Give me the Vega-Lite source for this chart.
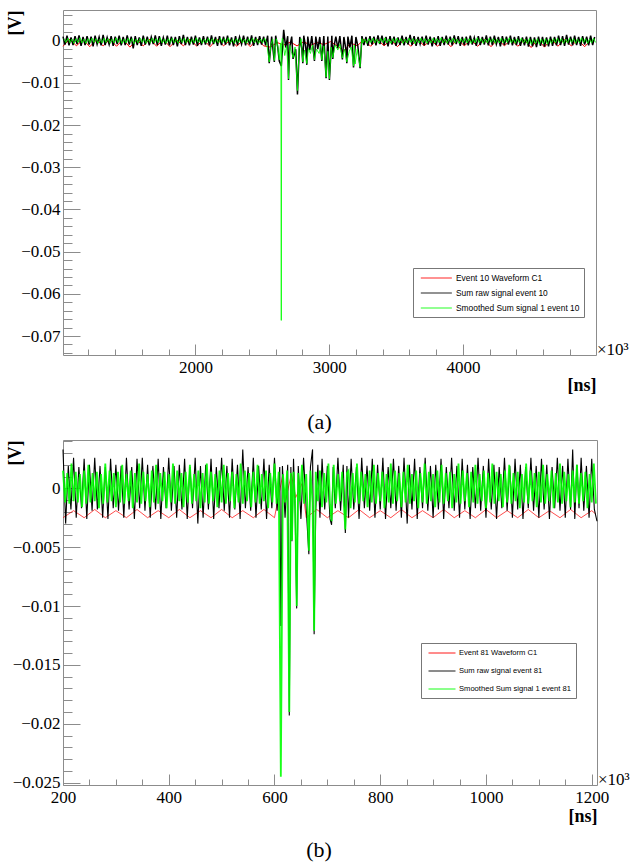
{
"$schema":"https://vega.github.io/schema/vega-lite/v6.json",
"padding":{"left":5,"top":9,"right":0,"bottom":0},
"background":"white",
"bounds":"flush",
"spacing":85,
"config":{
 "view":{"stroke":"#8c8c8c","strokeWidth":1},
 "axis":{"domain":false,"grid":false,"labelFont":"Liberation Serif","labelFontSize":17,"labelColor":"black","titleFont":"Liberation Serif","titleFontSize":18,"titleFontWeight":"bold","titleColor":"black","tickColor":"#8c8c8c","tickWidth":1},
 "style":{"guide-label":{"font":"Liberation Serif"},"guide-title":{"font":"Liberation Serif"}}
},
"resolve":{"scale":{"color":"independent"}},
"datasets":{
"aRed":[{"t":1010,"v":-0.0013},{"t":1060,"v":0.0004},{"t":1110,"v":-0.0012},{"t":1160,"v":0.0003},{"t":1210,"v":-0.0014},{"t":1260,"v":0.0002},{"t":1310,"v":-0.0012},{"t":1360,"v":0.0004},{"t":1410,"v":-0.0013},{"t":1460,"v":0.0003},{"t":1510,"v":-0.0015},{"t":1560,"v":0.0002},{"t":1610,"v":-0.0012},{"t":1660,"v":0.0004},{"t":1710,"v":-0.0013},{"t":1760,"v":0.0003},{"t":1810,"v":-0.0014},{"t":1860,"v":0.0002},{"t":1910,"v":-0.0012},{"t":1960,"v":0.0004},{"t":2010,"v":-0.0013},{"t":2060,"v":0.0003},{"t":2110,"v":-0.0014},{"t":2160,"v":0.0004},{"t":2210,"v":-0.0012},{"t":2260,"v":0.0002},{"t":2310,"v":-0.0013},{"t":2360,"v":0.0003},{"t":2410,"v":-0.0014},{"t":2460,"v":0.0004},{"t":2510,"v":-0.0012},{"t":2560,"v":-0.0015},{"t":2610,"v":-0.0004},{"t":2660,"v":-0.001},{"t":2710,"v":-0.0003},{"t":2760,"v":-0.0012},{"t":2810,"v":-0.0002},{"t":2860,"v":-0.0011},{"t":2910,"v":-0.0004},{"t":2960,"v":-0.0009},{"t":3010,"v":-0.0002},{"t":3060,"v":-0.0012},{"t":3110,"v":-0.0025},{"t":3160,"v":-0.0005},{"t":3210,"v":-0.0012},{"t":3260,"v":0.0003},{"t":3310,"v":-0.0013},{"t":3360,"v":0.0004},{"t":3410,"v":-0.0012},{"t":3460,"v":0.0002},{"t":3510,"v":-0.0014},{"t":3560,"v":0.0003},{"t":3610,"v":-0.0013},{"t":3660,"v":0.0004},{"t":3710,"v":-0.0012},{"t":3760,"v":0.0002},{"t":3810,"v":-0.0013},{"t":3860,"v":0.0003},{"t":3910,"v":-0.0014},{"t":3960,"v":0.0004},{"t":4010,"v":-0.0012},{"t":4060,"v":0.0002},{"t":4110,"v":-0.0013},{"t":4160,"v":0.0003},{"t":4210,"v":-0.0014},{"t":4260,"v":0.0004},{"t":4310,"v":-0.0012},{"t":4360,"v":0.0003},{"t":4410,"v":-0.0013},{"t":4460,"v":0.0002},{"t":4510,"v":-0.0016},{"t":4560,"v":0.0003},{"t":4610,"v":-0.0015},{"t":4660,"v":0.0004},{"t":4710,"v":-0.0013},{"t":4760,"v":0.0003},{"t":4810,"v":-0.0012},{"t":4860,"v":0.0002},{"t":4910,"v":-0.0014},{"t":4960,"v":0.0003}],
"aBlack":[{"t":1010,"v":0.001},{"t":1025,"v":-0.0009},{"t":1040,"v":0.0012},{"t":1055,"v":-0.0011},{"t":1070,"v":0.0008},{"t":1085,"v":-0.001},{"t":1100,"v":0.0011},{"t":1115,"v":-0.0008},{"t":1130,"v":0.0013},{"t":1145,"v":-0.0012},{"t":1160,"v":0.0009},{"t":1175,"v":-0.001},{"t":1190,"v":0.0011},{"t":1205,"v":-0.0009},{"t":1220,"v":0.001},{"t":1235,"v":-0.0013},{"t":1250,"v":0.0012},{"t":1265,"v":-0.0008},{"t":1280,"v":0.0009},{"t":1295,"v":-0.0011},{"t":1310,"v":0.0014},{"t":1325,"v":-0.001},{"t":1340,"v":0.0008},{"t":1355,"v":-0.0009},{"t":1370,"v":0.0011},{"t":1385,"v":-0.0012},{"t":1400,"v":0.001},{"t":1415,"v":-0.0008},{"t":1430,"v":0.0012},{"t":1445,"v":-0.0011},{"t":1460,"v":0.0009},{"t":1475,"v":-0.001},{"t":1490,"v":0.0013},{"t":1505,"v":-0.0009},{"t":1520,"v":0.001},{"t":1535,"v":-0.0018},{"t":1550,"v":0.0011},{"t":1565,"v":-0.001},{"t":1580,"v":0.0008},{"t":1595,"v":-0.0012},{"t":1610,"v":0.0012},{"t":1625,"v":-0.0009},{"t":1640,"v":0.001},{"t":1655,"v":-0.0011},{"t":1670,"v":0.0009},{"t":1685,"v":-0.0008},{"t":1700,"v":0.0013},{"t":1715,"v":-0.001},{"t":1730,"v":0.0011},{"t":1745,"v":-0.0012},{"t":1760,"v":0.0008},{"t":1775,"v":-0.0009},{"t":1790,"v":0.0012},{"t":1805,"v":-0.0011},{"t":1820,"v":0.001},{"t":1835,"v":-0.001},{"t":1850,"v":0.0009},{"t":1865,"v":-0.0013},{"t":1880,"v":0.0011},{"t":1895,"v":-0.0008},{"t":1910,"v":0.0014},{"t":1925,"v":-0.001},{"t":1940,"v":0.0009},{"t":1955,"v":-0.0011},{"t":1970,"v":0.001},{"t":1985,"v":-0.0009},{"t":2000,"v":0.0012},{"t":2015,"v":-0.0012},{"t":2030,"v":0.0008},{"t":2045,"v":-0.001},{"t":2060,"v":0.0011},{"t":2075,"v":-0.0009},{"t":2090,"v":0.001},{"t":2105,"v":-0.0011},{"t":2120,"v":0.0013},{"t":2135,"v":-0.0008},{"t":2150,"v":0.0009},{"t":2165,"v":-0.0012},{"t":2180,"v":0.0011},{"t":2195,"v":-0.001},{"t":2210,"v":0.001},{"t":2225,"v":-0.0009},{"t":2240,"v":0.0012},{"t":2255,"v":-0.0011},{"t":2270,"v":0.0008},{"t":2285,"v":-0.0013},{"t":2300,"v":0.0011},{"t":2315,"v":-0.001},{"t":2330,"v":0.0009},{"t":2345,"v":-0.0008},{"t":2360,"v":0.0012},{"t":2375,"v":-0.0011},{"t":2390,"v":0.001},{"t":2405,"v":-0.0009},{"t":2420,"v":0.0013},{"t":2435,"v":-0.0012},{"t":2450,"v":0.0009},{"t":2465,"v":-0.001},{"t":2480,"v":0.0011},{"t":2495,"v":-0.0009},{"t":2510,"v":0.001},{"t":2525,"v":-0.0011},{"t":2540,"v":0.0012},{"t":2552,"v":-0.0053},{"t":2570,"v":0.001},{"t":2590,"v":-0.005},{"t":2600,"v":0.0012},{"t":2615,"v":-0.0014},{"t":2627,"v":-0.0048},{"t":2642,"v":-0.006},{"t":2660,"v":0.0026},{"t":2675,"v":-0.0016},{"t":2690,"v":0.0011},{"t":2696,"v":-0.0093},{"t":2705,"v":-0.0015},{"t":2720,"v":0.001},{"t":2730,"v":-0.0043},{"t":2750,"v":-0.002},{"t":2763,"v":-0.0127},{"t":2780,"v":0.0009},{"t":2795,"v":-0.0018},{"t":2803,"v":-0.0053},{"t":2810,"v":0.0012},{"t":2825,"v":-0.0016},{"t":2833,"v":-0.0057},{"t":2840,"v":0.001},{"t":2855,"v":-0.0022},{"t":2870,"v":0.0011},{"t":2890,"v":-0.0048},{"t":2900,"v":0.001},{"t":2915,"v":-0.002},{"t":2930,"v":0.0009},{"t":2945,"v":-0.0048},{"t":2960,"v":0.0011},{"t":2977,"v":-0.0089},{"t":2990,"v":0.001},{"t":3002,"v":-0.0093},{"t":3020,"v":0.0012},{"t":3027,"v":-0.0043},{"t":3035,"v":-0.0015},{"t":3050,"v":0.001},{"t":3065,"v":-0.0018},{"t":3080,"v":0.0011},{"t":3099,"v":-0.0044},{"t":3110,"v":0.0009},{"t":3125,"v":-0.002},{"t":3132,"v":-0.0053},{"t":3140,"v":0.001},{"t":3155,"v":-0.0016},{"t":3170,"v":0.0012},{"t":3182,"v":-0.0063},{"t":3200,"v":0.0009},{"t":3215,"v":-0.0014},{"t":3231,"v":-0.0065},{"t":3245,"v":0.0011},{"t":3260,"v":-0.001},{"t":3275,"v":0.0009},{"t":3290,"v":-0.0012},{"t":3305,"v":0.0011},{"t":3320,"v":-0.0009},{"t":3335,"v":0.001},{"t":3350,"v":-0.0011},{"t":3365,"v":0.0013},{"t":3380,"v":-0.0008},{"t":3395,"v":0.0012},{"t":3410,"v":-0.001},{"t":3425,"v":0.0009},{"t":3440,"v":-0.0013},{"t":3455,"v":0.0011},{"t":3470,"v":-0.0009},{"t":3485,"v":0.001},{"t":3500,"v":-0.0012},{"t":3515,"v":0.0008},{"t":3530,"v":-0.001},{"t":3545,"v":0.0012},{"t":3560,"v":-0.0011},{"t":3575,"v":0.0009},{"t":3590,"v":-0.0009},{"t":3605,"v":0.0014},{"t":3620,"v":-0.001},{"t":3635,"v":0.0011},{"t":3650,"v":-0.0012},{"t":3665,"v":0.0009},{"t":3680,"v":-0.0008},{"t":3695,"v":0.001},{"t":3710,"v":-0.0011},{"t":3725,"v":0.0012},{"t":3740,"v":-0.0009},{"t":3755,"v":0.001},{"t":3770,"v":-0.0013},{"t":3785,"v":0.0008},{"t":3800,"v":-0.001},{"t":3815,"v":0.0011},{"t":3830,"v":-0.0012},{"t":3845,"v":0.0009},{"t":3860,"v":-0.001},{"t":3875,"v":0.0012},{"t":3890,"v":-0.0009},{"t":3905,"v":0.001},{"t":3920,"v":-0.0011},{"t":3935,"v":0.0013},{"t":3950,"v":-0.0008},{"t":3965,"v":0.0011},{"t":3980,"v":-0.0012},{"t":3995,"v":0.0009},{"t":4010,"v":-0.001},{"t":4025,"v":0.001},{"t":4040,"v":-0.0011},{"t":4055,"v":0.0012},{"t":4070,"v":-0.0009},{"t":4085,"v":0.0008},{"t":4100,"v":-0.0012},{"t":4115,"v":0.0011},{"t":4130,"v":-0.001},{"t":4145,"v":0.0009},{"t":4160,"v":-0.0009},{"t":4175,"v":0.0013},{"t":4190,"v":-0.0011},{"t":4205,"v":0.001},{"t":4220,"v":-0.001},{"t":4235,"v":0.0012},{"t":4250,"v":-0.0008},{"t":4265,"v":0.0009},{"t":4280,"v":-0.0013},{"t":4295,"v":0.0011},{"t":4310,"v":-0.001},{"t":4325,"v":0.001},{"t":4340,"v":-0.0009},{"t":4355,"v":0.0012},{"t":4370,"v":-0.0011},{"t":4385,"v":0.0009},{"t":4400,"v":-0.001},{"t":4415,"v":0.0011},{"t":4430,"v":-0.0012},{"t":4445,"v":0.0008},{"t":4460,"v":-0.0011},{"t":4475,"v":0.001},{"t":4490,"v":-0.0014},{"t":4505,"v":0.0009},{"t":4520,"v":-0.0013},{"t":4535,"v":0.0008},{"t":4550,"v":-0.0015},{"t":4565,"v":0.001},{"t":4580,"v":-0.0012},{"t":4595,"v":0.0009},{"t":4610,"v":-0.0014},{"t":4625,"v":0.0008},{"t":4640,"v":-0.0013},{"t":4655,"v":0.001},{"t":4670,"v":-0.0012},{"t":4685,"v":0.0009},{"t":4700,"v":-0.0011},{"t":4715,"v":0.0012},{"t":4730,"v":-0.001},{"t":4745,"v":0.0011},{"t":4760,"v":-0.0012},{"t":4775,"v":0.0014},{"t":4790,"v":-0.0009},{"t":4805,"v":0.001},{"t":4820,"v":-0.0011},{"t":4835,"v":0.0012},{"t":4850,"v":-0.001},{"t":4865,"v":0.0009},{"t":4880,"v":-0.0012},{"t":4895,"v":0.0011},{"t":4910,"v":-0.0009},{"t":4925,"v":0.001},{"t":4940,"v":-0.0011},{"t":4955,"v":0.0012},{"t":4970,"v":-0.001},{"t":4985,"v":0.0009}],
"aGreen":[{"t":1017,"v":0.0005},{"t":1032,"v":-0.0004},{"t":1047,"v":0.0006},{"t":1062,"v":-0.0005},{"t":1077,"v":0.0004},{"t":1092,"v":-0.0006},{"t":1107,"v":0.0005},{"t":1122,"v":-0.0004},{"t":1137,"v":0.0007},{"t":1152,"v":-0.0005},{"t":1167,"v":0.0004},{"t":1182,"v":-0.0006},{"t":1197,"v":0.0005},{"t":1212,"v":-0.0005},{"t":1227,"v":0.0006},{"t":1242,"v":-0.0004},{"t":1257,"v":0.0005},{"t":1272,"v":-0.0006},{"t":1287,"v":0.0004},{"t":1302,"v":-0.0005},{"t":1317,"v":0.0006},{"t":1332,"v":-0.0004},{"t":1347,"v":0.0005},{"t":1362,"v":-0.0006},{"t":1377,"v":0.0004},{"t":1392,"v":-0.0005},{"t":1407,"v":0.0007},{"t":1422,"v":-0.0004},{"t":1437,"v":0.0005},{"t":1452,"v":-0.0006},{"t":1467,"v":0.0004},{"t":1482,"v":-0.0005},{"t":1497,"v":0.0006},{"t":1512,"v":-0.0004},{"t":1527,"v":0.0005},{"t":1542,"v":-0.0007},{"t":1557,"v":0.0004},{"t":1572,"v":-0.0005},{"t":1587,"v":0.0006},{"t":1602,"v":-0.0004},{"t":1617,"v":0.0005},{"t":1632,"v":-0.0006},{"t":1647,"v":0.0004},{"t":1662,"v":-0.0005},{"t":1677,"v":0.0006},{"t":1692,"v":-0.0005},{"t":1707,"v":0.0005},{"t":1722,"v":-0.0004},{"t":1737,"v":0.0007},{"t":1752,"v":-0.0005},{"t":1767,"v":0.0004},{"t":1782,"v":-0.0006},{"t":1797,"v":0.0005},{"t":1812,"v":-0.0004},{"t":1827,"v":0.0006},{"t":1842,"v":-0.0005},{"t":1857,"v":0.0004},{"t":1872,"v":-0.0006},{"t":1887,"v":0.0005},{"t":1902,"v":-0.0004},{"t":1917,"v":0.0006},{"t":1932,"v":-0.0005},{"t":1947,"v":0.0005},{"t":1962,"v":-0.0006},{"t":1977,"v":0.0004},{"t":1992,"v":-0.0005},{"t":2007,"v":0.0007},{"t":2022,"v":-0.0004},{"t":2037,"v":0.0005},{"t":2052,"v":-0.0006},{"t":2067,"v":0.0004},{"t":2082,"v":-0.0005},{"t":2097,"v":0.0006},{"t":2112,"v":-0.0004},{"t":2127,"v":0.0005},{"t":2142,"v":-0.0006},{"t":2157,"v":0.0004},{"t":2172,"v":-0.0005},{"t":2187,"v":0.0006},{"t":2202,"v":-0.0005},{"t":2217,"v":0.0005},{"t":2232,"v":-0.0004},{"t":2247,"v":0.0007},{"t":2262,"v":-0.0005},{"t":2277,"v":0.0004},{"t":2292,"v":-0.0006},{"t":2307,"v":0.0005},{"t":2322,"v":-0.0004},{"t":2337,"v":0.0006},{"t":2352,"v":-0.0005},{"t":2367,"v":0.0004},{"t":2382,"v":-0.0006},{"t":2397,"v":0.0005},{"t":2412,"v":-0.0004},{"t":2427,"v":0.0006},{"t":2442,"v":-0.0005},{"t":2457,"v":0.0005},{"t":2472,"v":-0.0006},{"t":2487,"v":0.0004},{"t":2502,"v":-0.0005},{"t":2517,"v":0.0006},{"t":2532,"v":-0.0004},{"t":2552,"v":-0.005},{"t":2565,"v":-0.0008},{"t":2578,"v":0.0004},{"t":2590,"v":-0.0047},{"t":2605,"v":0.0005},{"t":2615,"v":-0.0012},{"t":2627,"v":-0.0045},{"t":2636,"v":-0.0006},{"t":2639,"v":-0.0005},{"t":2642,"v":-0.0663},{"t":2645,"v":-0.0006},{"t":2650,"v":0.0006},{"t":2668,"v":-0.0035},{"t":2682,"v":-0.0012},{"t":2696,"v":-0.009},{"t":2705,"v":-0.001},{"t":2717,"v":-0.0025},{"t":2730,"v":-0.004},{"t":2745,"v":-0.0015},{"t":2763,"v":-0.0118},{"t":2775,"v":-0.002},{"t":2790,"v":0.0005},{"t":2803,"v":-0.005},{"t":2815,"v":-0.0022},{"t":2833,"v":-0.0054},{"t":2845,"v":-0.0018},{"t":2860,"v":-0.003},{"t":2875,"v":-0.001},{"t":2890,"v":-0.0045},{"t":2905,"v":-0.002},{"t":2925,"v":-0.003},{"t":2935,"v":-0.0008},{"t":2945,"v":-0.0045},{"t":2960,"v":-0.0012},{"t":2977,"v":-0.0086},{"t":2990,"v":-0.0025},{"t":3002,"v":-0.009},{"t":3015,"v":-0.0015},{"t":3027,"v":-0.004},{"t":3045,"v":-0.001},{"t":3065,"v":-0.0022},{"t":3080,"v":-0.0008},{"t":3099,"v":-0.0041},{"t":3115,"v":-0.002},{"t":3132,"v":-0.005},{"t":3150,"v":-0.0025},{"t":3165,"v":-0.0015},{"t":3182,"v":-0.006},{"t":3188,"v":-0.001},{"t":3194,"v":-0.0055},{"t":3210,"v":-0.002},{"t":3231,"v":-0.0062},{"t":3245,"v":0.0005},{"t":3252,"v":-0.0005},{"t":3267,"v":0.0004},{"t":3282,"v":-0.0006},{"t":3297,"v":0.0005},{"t":3312,"v":-0.0004},{"t":3327,"v":0.0006},{"t":3342,"v":-0.0005},{"t":3357,"v":0.0004},{"t":3372,"v":-0.0006},{"t":3387,"v":0.0005},{"t":3402,"v":-0.0004},{"t":3417,"v":0.0007},{"t":3432,"v":-0.0005},{"t":3447,"v":0.0004},{"t":3462,"v":-0.0006},{"t":3477,"v":0.0005},{"t":3492,"v":-0.0005},{"t":3507,"v":0.0006},{"t":3522,"v":-0.0004},{"t":3537,"v":0.0005},{"t":3552,"v":-0.0006},{"t":3567,"v":0.0004},{"t":3582,"v":-0.0005},{"t":3597,"v":0.0006},{"t":3612,"v":-0.0004},{"t":3627,"v":0.0005},{"t":3642,"v":-0.0007},{"t":3657,"v":0.0004},{"t":3672,"v":-0.0005},{"t":3687,"v":0.0006},{"t":3702,"v":-0.0004},{"t":3717,"v":0.0005},{"t":3732,"v":-0.0006},{"t":3747,"v":0.0004},{"t":3762,"v":-0.0005},{"t":3777,"v":0.0006},{"t":3792,"v":-0.0005},{"t":3807,"v":0.0005},{"t":3822,"v":-0.0004},{"t":3837,"v":0.0007},{"t":3852,"v":-0.0005},{"t":3867,"v":0.0004},{"t":3882,"v":-0.0006},{"t":3897,"v":0.0005},{"t":3912,"v":-0.0004},{"t":3927,"v":0.0006},{"t":3942,"v":-0.0005},{"t":3957,"v":0.0004},{"t":3972,"v":-0.0006},{"t":3987,"v":0.0005},{"t":4002,"v":-0.0004},{"t":4017,"v":0.0006},{"t":4032,"v":-0.0005},{"t":4047,"v":0.0005},{"t":4062,"v":-0.0006},{"t":4077,"v":0.0004},{"t":4092,"v":-0.0005},{"t":4107,"v":0.0007},{"t":4122,"v":-0.0004},{"t":4137,"v":0.0005},{"t":4152,"v":-0.0006},{"t":4167,"v":0.0004},{"t":4182,"v":-0.0005},{"t":4197,"v":0.0006},{"t":4212,"v":-0.0004},{"t":4227,"v":0.0005},{"t":4242,"v":-0.0006},{"t":4257,"v":0.0004},{"t":4272,"v":-0.0005},{"t":4287,"v":0.0006},{"t":4302,"v":-0.0005},{"t":4317,"v":0.0005},{"t":4332,"v":-0.0004},{"t":4347,"v":0.0007},{"t":4362,"v":-0.0005},{"t":4377,"v":0.0004},{"t":4392,"v":-0.0006},{"t":4407,"v":0.0005},{"t":4422,"v":-0.0004},{"t":4437,"v":0.0006},{"t":4452,"v":-0.0005},{"t":4467,"v":0.0004},{"t":4482,"v":-0.0007},{"t":4497,"v":0.0005},{"t":4512,"v":-0.0008},{"t":4527,"v":0.0004},{"t":4542,"v":-0.0007},{"t":4557,"v":0.0005},{"t":4572,"v":-0.0008},{"t":4587,"v":0.0004},{"t":4602,"v":-0.0007},{"t":4617,"v":0.0005},{"t":4632,"v":-0.0008},{"t":4647,"v":0.0004},{"t":4662,"v":-0.0006},{"t":4677,"v":0.0005},{"t":4692,"v":-0.0005},{"t":4707,"v":0.0006},{"t":4722,"v":-0.0004},{"t":4737,"v":0.0005},{"t":4752,"v":-0.0006},{"t":4767,"v":0.0004},{"t":4782,"v":-0.0005},{"t":4797,"v":0.0006},{"t":4812,"v":-0.0004},{"t":4827,"v":0.0005},{"t":4842,"v":-0.0006},{"t":4857,"v":0.0004},{"t":4872,"v":-0.0005},{"t":4887,"v":0.0007},{"t":4902,"v":-0.0004},{"t":4917,"v":0.0005},{"t":4932,"v":-0.0006},{"t":4947,"v":0.0004},{"t":4962,"v":-0.0005},{"t":4977,"v":0.0006},{"t":4992,"v":-0.0004}],
"bRed":[{"t":200,"v":-0.0025},{"t":220,"v":-0.0019},{"t":240,"v":-0.0025},{"t":260,"v":-0.0018},{"t":280,"v":-0.0025},{"t":300,"v":-0.0019},{"t":320,"v":-0.0025},{"t":340,"v":-0.0018},{"t":360,"v":-0.0025},{"t":380,"v":-0.0019},{"t":400,"v":-0.0025},{"t":420,"v":-0.0018},{"t":440,"v":-0.0025},{"t":460,"v":-0.0019},{"t":480,"v":-0.0025},{"t":500,"v":-0.0018},{"t":520,"v":-0.0025},{"t":540,"v":-0.0019},{"t":560,"v":-0.0025},{"t":580,"v":-0.0018},{"t":600,"v":-0.0025},{"t":615,"v":0.001},{"t":620,"v":-0.0012},{"t":632,"v":0.0012},{"t":640,"v":-0.0008},{"t":652,"v":0.0004},{"t":660,"v":-0.0025},{"t":680,"v":-0.0018},{"t":700,"v":-0.0025},{"t":720,"v":-0.0019},{"t":740,"v":-0.0025},{"t":760,"v":-0.0018},{"t":780,"v":-0.0025},{"t":800,"v":-0.0019},{"t":820,"v":-0.0025},{"t":840,"v":-0.0018},{"t":860,"v":-0.0025},{"t":880,"v":-0.0019},{"t":900,"v":-0.0025},{"t":920,"v":-0.0018},{"t":940,"v":-0.0025},{"t":960,"v":-0.0019},{"t":980,"v":-0.0025},{"t":1000,"v":-0.0018},{"t":1020,"v":-0.0025},{"t":1040,"v":-0.0019},{"t":1060,"v":-0.0025},{"t":1080,"v":-0.0018},{"t":1100,"v":-0.0025},{"t":1120,"v":-0.0019},{"t":1140,"v":-0.0025},{"t":1160,"v":-0.0018},{"t":1180,"v":-0.0025},{"t":1200,"v":-0.0019},{"t":1208,"v":-0.0022}],
"bBlack":[{"t":200,"v":0.0033},{"t":205,"v":-0.003},{"t":210,"v":0.0019},{"t":215,"v":-0.0018},{"t":220,"v":0.0026},{"t":225,"v":-0.0025},{"t":230,"v":0.0018},{"t":235,"v":-0.0017},{"t":240,"v":0.0025},{"t":245,"v":-0.0026},{"t":250,"v":0.002},{"t":255,"v":-0.0019},{"t":260,"v":0.0026},{"t":265,"v":-0.0018},{"t":270,"v":0.0019},{"t":275,"v":-0.0025},{"t":280,"v":0.0018},{"t":285,"v":-0.0026},{"t":290,"v":0.0025},{"t":295,"v":-0.0017},{"t":300,"v":0.002},{"t":305,"v":-0.0019},{"t":310,"v":0.0019},{"t":315,"v":-0.0025},{"t":320,"v":0.0026},{"t":325,"v":-0.0018},{"t":330,"v":0.0018},{"t":335,"v":-0.0026},{"t":340,"v":0.0025},{"t":345,"v":-0.0017},{"t":350,"v":0.0026},{"t":355,"v":-0.0019},{"t":360,"v":0.002},{"t":365,"v":-0.0025},{"t":370,"v":0.0019},{"t":375,"v":-0.0018},{"t":380,"v":0.0025},{"t":385,"v":-0.0026},{"t":390,"v":0.0018},{"t":395,"v":-0.0017},{"t":400,"v":0.0026},{"t":405,"v":-0.0019},{"t":410,"v":0.0019},{"t":415,"v":-0.0025},{"t":420,"v":0.002},{"t":425,"v":-0.0018},{"t":430,"v":0.0025},{"t":435,"v":-0.0026},{"t":440,"v":0.0018},{"t":445,"v":-0.0017},{"t":450,"v":0.0026},{"t":455,"v":-0.003},{"t":460,"v":0.0019},{"t":465,"v":-0.0025},{"t":470,"v":0.002},{"t":475,"v":-0.0018},{"t":480,"v":0.0025},{"t":485,"v":-0.0026},{"t":490,"v":0.0018},{"t":495,"v":-0.0017},{"t":500,"v":0.0026},{"t":505,"v":-0.0019},{"t":510,"v":0.0019},{"t":515,"v":-0.0025},{"t":520,"v":0.0025},{"t":525,"v":-0.0018},{"t":530,"v":0.002},{"t":535,"v":-0.0026},{"t":540,"v":0.0033},{"t":545,"v":-0.0017},{"t":550,"v":0.0018},{"t":555,"v":-0.0019},{"t":560,"v":0.0026},{"t":565,"v":-0.0025},{"t":570,"v":0.0019},{"t":575,"v":-0.0018},{"t":580,"v":0.0025},{"t":585,"v":-0.0026},{"t":590,"v":0.002},{"t":595,"v":-0.0017},{"t":600,"v":0.0026},{"t":605,"v":-0.0019},{"t":610,"v":0.0018},{"t":612,"v":-0.0117},{"t":615,"v":0.0019},{"t":620,"v":-0.0025},{"t":625,"v":0.002},{"t":628,"v":-0.0193},{"t":631,"v":0.0018},{"t":633,"v":-0.0045},{"t":636,"v":0.0025},{"t":639,"v":-0.0018},{"t":642,"v":-0.0102},{"t":645,"v":0.0019},{"t":650,"v":-0.0026},{"t":655,"v":0.0026},{"t":660,"v":-0.0017},{"t":665,"v":-0.0056},{"t":668,"v":0.0018},{"t":672,"v":0.0033},{"t":675,"v":-0.0124},{"t":678,"v":-0.0019},{"t":682,"v":0.002},{"t":686,"v":-0.0025},{"t":690,"v":0.0025},{"t":695,"v":-0.0018},{"t":700,"v":0.0019},{"t":705,"v":-0.0026},{"t":708,"v":-0.0031},{"t":711,"v":0.0018},{"t":715,"v":-0.0017},{"t":720,"v":0.0026},{"t":725,"v":-0.0019},{"t":730,"v":0.002},{"t":734,"v":-0.0038},{"t":737,"v":0.0019},{"t":740,"v":-0.0025},{"t":745,"v":0.0025},{"t":750,"v":-0.0018},{"t":755,"v":0.0018},{"t":760,"v":-0.0026},{"t":765,"v":0.0026},{"t":770,"v":-0.0017},{"t":775,"v":0.0019},{"t":780,"v":-0.0019},{"t":785,"v":0.0025},{"t":790,"v":-0.0025},{"t":795,"v":0.002},{"t":800,"v":-0.0018},{"t":805,"v":0.0026},{"t":810,"v":-0.0026},{"t":815,"v":0.0018},{"t":820,"v":-0.0017},{"t":825,"v":0.0025},{"t":830,"v":-0.0019},{"t":835,"v":0.0019},{"t":840,"v":-0.0025},{"t":845,"v":0.0026},{"t":851,"v":-0.003},{"t":855,"v":0.002},{"t":860,"v":-0.0018},{"t":865,"v":0.0025},{"t":870,"v":-0.0026},{"t":875,"v":0.0018},{"t":880,"v":-0.0017},{"t":885,"v":0.0026},{"t":890,"v":-0.0019},{"t":895,"v":0.0019},{"t":900,"v":-0.0025},{"t":905,"v":0.002},{"t":910,"v":-0.0018},{"t":915,"v":0.0025},{"t":920,"v":-0.0026},{"t":925,"v":0.0018},{"t":930,"v":-0.0017},{"t":935,"v":0.0026},{"t":940,"v":-0.0019},{"t":945,"v":0.0019},{"t":950,"v":-0.0025},{"t":955,"v":0.0025},{"t":960,"v":-0.0018},{"t":965,"v":0.002},{"t":970,"v":-0.0026},{"t":975,"v":0.0018},{"t":980,"v":-0.0017},{"t":985,"v":0.0026},{"t":990,"v":-0.0019},{"t":995,"v":0.0019},{"t":1000,"v":-0.0025},{"t":1005,"v":0.0025},{"t":1010,"v":-0.0018},{"t":1015,"v":0.002},{"t":1020,"v":-0.0026},{"t":1025,"v":0.0018},{"t":1030,"v":-0.0017},{"t":1035,"v":0.0026},{"t":1040,"v":-0.0019},{"t":1045,"v":0.0019},{"t":1050,"v":-0.0025},{"t":1055,"v":0.0025},{"t":1060,"v":-0.0018},{"t":1065,"v":0.002},{"t":1070,"v":-0.0026},{"t":1075,"v":0.0018},{"t":1080,"v":-0.0017},{"t":1085,"v":0.0026},{"t":1090,"v":-0.0019},{"t":1095,"v":0.0019},{"t":1100,"v":-0.0025},{"t":1105,"v":0.0025},{"t":1110,"v":-0.0018},{"t":1115,"v":0.002},{"t":1120,"v":-0.0026},{"t":1125,"v":0.0018},{"t":1130,"v":-0.0017},{"t":1135,"v":0.0026},{"t":1140,"v":-0.0019},{"t":1145,"v":0.0019},{"t":1150,"v":-0.0025},{"t":1155,"v":0.0025},{"t":1160,"v":-0.0018},{"t":1164,"v":0.0033},{"t":1168,"v":-0.0026},{"t":1172,"v":0.002},{"t":1176,"v":-0.0017},{"t":1180,"v":0.0026},{"t":1185,"v":-0.0019},{"t":1190,"v":0.0019},{"t":1195,"v":-0.0025},{"t":1200,"v":0.0025},{"t":1205,"v":-0.0018},{"t":1210,"v":-0.0028}],
"bGreen":[{"t":200,"v":0.0015},{"t":204,"v":-0.0012},{"t":208,"v":0.0013},{"t":212,"v":-0.0013},{"t":216,"v":0.0021},{"t":220,"v":-0.0011},{"t":224,"v":0.0014},{"t":228,"v":-0.0012},{"t":232,"v":0.0012},{"t":236,"v":-0.0016},{"t":240,"v":0.0015},{"t":244,"v":-0.0013},{"t":248,"v":0.002},{"t":252,"v":-0.0012},{"t":256,"v":0.0013},{"t":260,"v":-0.0011},{"t":264,"v":0.0014},{"t":268,"v":-0.0017},{"t":272,"v":0.0012},{"t":276,"v":-0.0013},{"t":280,"v":0.0021},{"t":284,"v":-0.0012},{"t":288,"v":0.0015},{"t":292,"v":-0.0011},{"t":296,"v":0.0013},{"t":300,"v":-0.0016},{"t":304,"v":0.0014},{"t":308,"v":-0.0012},{"t":312,"v":0.002},{"t":316,"v":-0.0013},{"t":320,"v":0.0012},{"t":324,"v":-0.0011},{"t":328,"v":0.0015},{"t":332,"v":-0.0017},{"t":336,"v":0.0013},{"t":340,"v":-0.0012},{"t":344,"v":0.0021},{"t":348,"v":-0.0013},{"t":352,"v":0.0014},{"t":356,"v":-0.0011},{"t":360,"v":0.0012},{"t":364,"v":-0.0016},{"t":368,"v":0.0015},{"t":372,"v":-0.0012},{"t":376,"v":0.002},{"t":380,"v":-0.0013},{"t":384,"v":0.0013},{"t":388,"v":-0.0011},{"t":392,"v":0.0014},{"t":396,"v":-0.0017},{"t":400,"v":0.0012},{"t":404,"v":-0.0012},{"t":408,"v":0.0021},{"t":412,"v":-0.0013},{"t":416,"v":0.0015},{"t":420,"v":-0.0011},{"t":424,"v":0.0013},{"t":428,"v":-0.0016},{"t":432,"v":0.0014},{"t":436,"v":-0.0012},{"t":440,"v":0.002},{"t":444,"v":-0.0013},{"t":448,"v":0.0012},{"t":452,"v":-0.0011},{"t":456,"v":0.0015},{"t":460,"v":-0.0017},{"t":464,"v":0.0013},{"t":468,"v":-0.0012},{"t":472,"v":0.0021},{"t":476,"v":-0.0013},{"t":480,"v":0.0014},{"t":484,"v":-0.0011},{"t":488,"v":0.0012},{"t":492,"v":-0.0016},{"t":496,"v":0.0015},{"t":500,"v":-0.0012},{"t":504,"v":0.002},{"t":508,"v":-0.0013},{"t":512,"v":0.0013},{"t":516,"v":-0.0011},{"t":520,"v":0.0014},{"t":524,"v":-0.0017},{"t":528,"v":0.0012},{"t":532,"v":-0.0012},{"t":536,"v":0.0021},{"t":540,"v":-0.0013},{"t":544,"v":0.0015},{"t":548,"v":-0.0011},{"t":552,"v":0.0013},{"t":556,"v":-0.0016},{"t":560,"v":0.0014},{"t":564,"v":-0.0012},{"t":568,"v":0.002},{"t":572,"v":-0.0013},{"t":576,"v":0.0012},{"t":580,"v":-0.0011},{"t":584,"v":0.0015},{"t":588,"v":-0.0017},{"t":592,"v":0.0013},{"t":596,"v":-0.0012},{"t":600,"v":0.0021},{"t":604,"v":-0.0013},{"t":608,"v":0.0014},{"t":612,"v":-0.0245},{"t":616,"v":0.0012},{"t":620,"v":-0.0012},{"t":624,"v":0.0015},{"t":628,"v":-0.019},{"t":631,"v":0.0013},{"t":633,"v":-0.0044},{"t":636,"v":0.0014},{"t":639,"v":-0.0012},{"t":642,"v":-0.01},{"t":645,"v":0.0013},{"t":648,"v":-0.0011},{"t":652,"v":0.002},{"t":656,"v":-0.0013},{"t":660,"v":0.0012},{"t":665,"v":-0.0053},{"t":668,"v":0.0015},{"t":672,"v":-0.0012},{"t":675,"v":-0.0121},{"t":678,"v":0.0014},{"t":682,"v":-0.0011},{"t":686,"v":0.0015},{"t":690,"v":-0.0016},{"t":694,"v":0.0013},{"t":698,"v":-0.0012},{"t":702,"v":0.0021},{"t":705,"v":-0.0013},{"t":708,"v":-0.0028},{"t":712,"v":0.002},{"t":716,"v":-0.0013},{"t":720,"v":0.0012},{"t":724,"v":-0.0011},{"t":728,"v":0.0014},{"t":731,"v":-0.0012},{"t":734,"v":-0.0035},{"t":737,"v":0.0013},{"t":740,"v":0.0015},{"t":744,"v":-0.0017},{"t":748,"v":0.0013},{"t":752,"v":-0.0012},{"t":756,"v":0.0021},{"t":760,"v":-0.0013},{"t":764,"v":0.0014},{"t":768,"v":-0.0011},{"t":772,"v":0.0012},{"t":776,"v":-0.0016},{"t":780,"v":0.0015},{"t":784,"v":-0.0012},{"t":788,"v":0.002},{"t":792,"v":-0.0013},{"t":796,"v":0.0013},{"t":800,"v":-0.0011},{"t":804,"v":0.0014},{"t":808,"v":-0.0017},{"t":812,"v":0.0012},{"t":816,"v":-0.0012},{"t":820,"v":0.0021},{"t":824,"v":-0.0013},{"t":828,"v":0.0015},{"t":832,"v":-0.0011},{"t":836,"v":0.0013},{"t":840,"v":-0.0016},{"t":844,"v":0.0014},{"t":848,"v":-0.0012},{"t":852,"v":0.002},{"t":856,"v":-0.0013},{"t":860,"v":0.0012},{"t":864,"v":-0.0011},{"t":868,"v":0.0015},{"t":872,"v":-0.0017},{"t":876,"v":0.0013},{"t":880,"v":-0.0012},{"t":884,"v":0.0021},{"t":888,"v":-0.0013},{"t":892,"v":0.0014},{"t":896,"v":-0.0011},{"t":900,"v":0.0012},{"t":904,"v":-0.0016},{"t":908,"v":0.0015},{"t":912,"v":-0.0012},{"t":916,"v":0.002},{"t":920,"v":-0.0013},{"t":924,"v":0.0013},{"t":928,"v":-0.0011},{"t":932,"v":0.0014},{"t":936,"v":-0.0017},{"t":940,"v":0.0012},{"t":944,"v":-0.0012},{"t":948,"v":0.0021},{"t":952,"v":-0.0013},{"t":956,"v":0.0015},{"t":960,"v":-0.0011},{"t":964,"v":0.0013},{"t":968,"v":-0.0016},{"t":972,"v":0.0014},{"t":976,"v":-0.0012},{"t":980,"v":0.002},{"t":984,"v":-0.0013},{"t":988,"v":0.0012},{"t":992,"v":-0.0011},{"t":996,"v":0.0015},{"t":1000,"v":-0.0017},{"t":1004,"v":0.0013},{"t":1008,"v":-0.0012},{"t":1012,"v":0.0021},{"t":1016,"v":-0.0013},{"t":1020,"v":0.0014},{"t":1024,"v":-0.0011},{"t":1028,"v":0.0012},{"t":1032,"v":-0.0016},{"t":1036,"v":0.0015},{"t":1040,"v":-0.0012},{"t":1044,"v":0.002},{"t":1048,"v":-0.0013},{"t":1052,"v":0.0013},{"t":1056,"v":-0.0011},{"t":1060,"v":0.0014},{"t":1064,"v":-0.0017},{"t":1068,"v":0.0012},{"t":1072,"v":-0.0012},{"t":1076,"v":0.0021},{"t":1080,"v":-0.0013},{"t":1084,"v":0.0015},{"t":1088,"v":-0.0011},{"t":1092,"v":0.0013},{"t":1096,"v":-0.0016},{"t":1100,"v":0.0014},{"t":1104,"v":-0.0012},{"t":1108,"v":0.002},{"t":1112,"v":-0.0013},{"t":1116,"v":0.0012},{"t":1120,"v":-0.0011},{"t":1124,"v":0.0015},{"t":1128,"v":-0.0017},{"t":1132,"v":0.0013},{"t":1136,"v":-0.0012},{"t":1140,"v":0.0021},{"t":1144,"v":-0.0013},{"t":1148,"v":0.0014},{"t":1152,"v":-0.0011},{"t":1156,"v":0.0012},{"t":1160,"v":-0.0016},{"t":1164,"v":0.0015},{"t":1168,"v":-0.0012},{"t":1172,"v":0.002},{"t":1176,"v":-0.0013},{"t":1180,"v":0.0013},{"t":1184,"v":-0.0011},{"t":1188,"v":0.0014},{"t":1192,"v":-0.0017},{"t":1196,"v":0.0012},{"t":1200,"v":-0.0012},{"t":1204,"v":0.0021},{"t":1208,"v":-0.0013}]
},
"vconcat":[
{
 "width":533,"height":345,
 "title":{"text":"(a)","orient":"bottom","anchor":"middle","frame":"group","offset":35,"baseline":"alphabetic","dx":-10,"font":"Liberation Serif","fontSize":22,"fontWeight":"normal","color":"black"},
 "resolve":{"axis":{"x":"independent","y":"independent"}},
 "layer":[
  {"data":{"name":"aRed"},"mark":{"type":"line","strokeWidth":1},
   "encoding":{
    "x":{"field":"t","type":"quantitative","scale":{"domain":[1010,4995],"nice":false,"zero":false},"axis":{"orient":"bottom","title":"[ns]","titleAnchor":"end","titleFont":"Liberation Serif","titleFontSize":18,"titleFontWeight":"bold","labelFont":"Liberation Serif","labelFontSize":17,"labelFlush":false,"values":[2000,3000,4000],"format":"d","ticks":false,"labelPadding":4,"titlePadding":1}},
    "y":{"field":"v","type":"quantitative","scale":{"domain":[-0.0745,0.0073],"nice":false,"zero":false},"axis":{"orient":"left","title":"[V]","titleFont":"Liberation Serif","titleFontSize":18,"titleFontWeight":"bold","titleAlign":"right","titleBaseline":"middle","titleX":-48,"titleY":0,"titleAngle":-90,"labelFont":"Liberation Serif","labelFontSize":17,"labelFlush":false,"values":[0,-0.01,-0.02,-0.03,-0.04,-0.05,-0.06,-0.07],"format":"~g","ticks":false,"labelPadding":3}},
    "color":{"datum":"Event 10 Waveform C1","scale":{"domain":["Event 10 Waveform C1","Sum raw signal event 10","Smoothed Sum signal 1 event 10"],"range":["#ff0000","#000000","#00ff00"]},
     "legend":{"orient":"none","legendX":350,"legendY":258,"title":null,"symbolType":"M-1,0H5","symbolSize":107,"symbolStrokeWidth":1,"symbolOpacity":0.55,"labelFont":"Liberation Sans","labelFontSize":8.4,"labelColor":"black","labelOffset":24,"rowPadding":4,"padding":4,"symbolOffset":3,"strokeColor":"#777777","fillColor":"white","cornerRadius":0}}
   }},
  {"data":{"name":"aBlack"},"mark":{"type":"line","strokeWidth":1.5},
   "encoding":{
    "x":{"field":"t","type":"quantitative","axis":{"orient":"bottom","title":null,"labels":false,"values":[2000,3000,4000],"tickSize":-11}},
    "y":{"field":"v","type":"quantitative","axis":{"orient":"left","title":null,"labels":false,"values":[0,-0.01,-0.02,-0.03,-0.04,-0.05,-0.06,-0.07],"tickSize":-17}},
    "color":{"datum":"Sum raw signal event 10"}
   }},
  {"data":{"name":"aGreen"},"mark":{"type":"line","strokeWidth":1,"opacity":0.85},
   "encoding":{
    "x":{"field":"t","type":"quantitative","axis":{"orient":"bottom","title":null,"labels":false,"values":[1200,1400,1600,1800,2200,2400,2600,2800,3200,3400,3600,3800,4200,4400,4600,4800],"tickSize":-6}},
    "y":{"field":"v","type":"quantitative","axis":{"orient":"left","title":null,"labels":false,"values":[0.006,0.004,0.002,-0.002,-0.004,-0.006,-0.008,-0.012,-0.014,-0.016,-0.018,-0.022,-0.024,-0.026,-0.028,-0.032,-0.034,-0.036,-0.038,-0.042,-0.044,-0.046,-0.048,-0.052,-0.054,-0.056,-0.058,-0.062,-0.064,-0.066,-0.068,-0.072,-0.074],"tickSize":-9}},
    "color":{"datum":"Smoothed Sum signal 1 event 10"}
   }},
  {"data":{"values":[{}]},"mark":{"type":"text","text":"×10³","align":"left","baseline":"alphabetic","dx":1,"font":"Liberation Serif","fontSize":17,"color":"black"},
   "encoding":{"x":{"datum":4995,"type":"quantitative","axis":null},"y":{"datum":-0.0745,"type":"quantitative","axis":null}}}
 ]
},
{
 "width":534,"height":345,
 "title":{"text":"(b)","orient":"bottom","anchor":"middle","frame":"group","offset":32,"baseline":"alphabetic","dx":-11,"font":"Liberation Serif","fontSize":22,"fontWeight":"normal","color":"black"},
 "resolve":{"axis":{"x":"independent","y":"independent"}},
 "layer":[
  {"data":{"name":"bRed"},"mark":{"type":"line","strokeWidth":1,"opacity":0.7},
   "encoding":{
    "x":{"field":"t","type":"quantitative","scale":{"domain":[200,1210],"nice":false,"zero":false},"axis":{"orient":"bottom","title":"[ns]","titleAnchor":"end","titleFont":"Liberation Serif","titleFontSize":18,"titleFontWeight":"bold","labelFont":"Liberation Serif","labelFontSize":17,"labelFlush":false,"values":[200,400,600,800,1000,1200],"format":"d","ticks":false,"labelPadding":4,"titlePadding":2}},
    "y":{"field":"v","type":"quantitative","scale":{"domain":[-0.0252,0.0041],"nice":false,"zero":false},"axis":{"orient":"left","title":"[V]","titleFont":"Liberation Serif","titleFontSize":18,"titleFontWeight":"bold","titleAlign":"right","titleBaseline":"middle","titleX":-48,"titleY":0,"titleAngle":-90,"labelFont":"Liberation Serif","labelFontSize":17,"labelFlush":false,"values":[0,-0.005,-0.01,-0.015,-0.02,-0.025],"format":"~g","ticks":false,"labelPadding":3}},
    "color":{"datum":"Event 81 Waveform C1","scale":{"domain":["Event 81 Waveform C1","Sum raw signal event 81","Smoothed Sum signal 1 event 81"],"range":["#ff0000","#000000","#00ff00"]},
     "legend":{"orient":"none","legendX":358,"legendY":203,"title":null,"symbolType":"M-1,0H5","symbolSize":81,"symbolStrokeWidth":1,"symbolOpacity":0.55,"labelFont":"Liberation Sans","labelFontSize":7.6,"labelColor":"black","labelOffset":21,"rowPadding":9,"padding":5,"symbolOffset":2,"strokeColor":"#777777","fillColor":"white","cornerRadius":0}}
   }},
  {"data":{"name":"bBlack"},"mark":{"type":"line","strokeWidth":1.1},
   "encoding":{
    "x":{"field":"t","type":"quantitative","axis":{"orient":"bottom","title":null,"labels":false,"values":[200,400,600,800,1000,1200],"tickSize":-11}},
    "y":{"field":"v","type":"quantitative","axis":{"orient":"left","title":null,"labels":false,"values":[0,-0.005,-0.01,-0.015,-0.02,-0.025],"tickSize":-17}},
    "color":{"datum":"Sum raw signal event 81"}
   }},
  {"data":{"name":"bGreen"},"mark":{"type":"line","strokeWidth":1.8,"opacity":0.9},
   "encoding":{
    "x":{"field":"t","type":"quantitative","axis":{"orient":"bottom","title":null,"labels":false,"values":[250,300,350,450,500,550,650,700,750,850,900,950,1050,1100,1150],"tickSize":-6}},
    "y":{"field":"v","type":"quantitative","axis":{"orient":"left","title":null,"labels":false,"values":[0.004,0.003,0.002,0.001,-0.001,-0.002,-0.003,-0.004,-0.006,-0.007,-0.008,-0.009,-0.011,-0.012,-0.013,-0.014,-0.016,-0.017,-0.018,-0.019,-0.021,-0.022,-0.023,-0.024],"tickSize":-9}},
    "color":{"datum":"Smoothed Sum signal 1 event 81"}
   }},
  {"data":{"values":[{}]},"mark":{"type":"text","text":"×10³","align":"left","baseline":"alphabetic","dx":1,"font":"Liberation Serif","fontSize":17,"color":"black"},
   "encoding":{"x":{"datum":1210,"type":"quantitative","axis":null},"y":{"datum":-0.0252,"type":"quantitative","axis":null}}}
 ]
}
]
}
